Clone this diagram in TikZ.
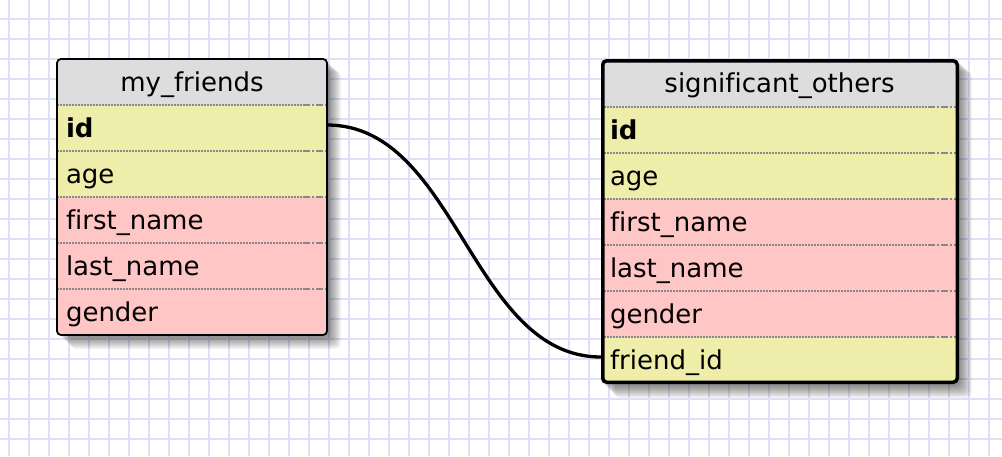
\documentclass[tikz,border=0pt]{standalone}
\usepackage{fontspec}
\setmainfont[Ligatures=NoCommon]{DejaVu Sans}
\definecolor{gridc}{RGB}{223,223,247}
\definecolor{headc}{RGB}{221,221,221}
\definecolor{yelc}{RGB}{238,238,170}
\definecolor{pinkc}{RGB}{255,198,198}
\definecolor{sepc}{RGB}{136,136,136}
\begin{document}
\begin{tikzpicture}[x=1pt,y=-1pt,
  gridline/.style={draw=gridc, line width=2pt},
  cellL/.style={rectangle, anchor=north west, inner xsep=9pt, inner ysep=0pt, outer sep=0pt,
    text width=252pt, minimum height=46pt, align=left, text height=20pt, text depth=2pt,
    font=\fontsize{26}{30}\selectfont},
  cellR/.style={cellL, text width=339pt},
  headL/.style={cellL, align=center},
  headR/.style={cellR, align=center, minimum height=48pt},
  sepdot/.style={draw=sepc, line width=1.5pt, dash pattern=on 1.5pt off 1.5pt},
  sepend/.style={draw=sepc, line width=1.5pt, dash pattern=on 7pt off 2pt on 2pt off 2pt},
  shadowlayer/.style={fill=black, opacity=0.04, rounded corners=5pt},
  link/.style={draw=black, line width=3.3pt}
]
\useasboundingbox (0,0) rectangle (1002,456);
\fill[white] (0,0) rectangle (1002,456);
% grid
\foreach \x in {9,29,...,989} \draw[gridline] (\x,0) -- (\x,456);
\foreach \y in {19,39,...,439} \draw[gridline] (0,\y) -- (1002,\y);

% shadows
\foreach \e in {1,...,14} {
  \fill[shadowlayer] ({57+\e},{59+0.9*\e}) rectangle ({327+\e},{335+\e});
  \fill[shadowlayer] ({601+\e},{59+0.9*\e}) rectangle ({958+\e},{384+\e});
}

% left table
\begin{scope}
\clip[rounded corners=4pt] (57,59) rectangle (327,335);
\node[headL, fill=headc] (lh) at (57,59) {my\_friends};
\node[cellL, fill=yelc] (lid) at (57,105) {\textbf{id}};
\node[cellL, fill=yelc] (lage) at (57,151) {age};
\node[cellL, fill=pinkc] (lfn) at (57,197) {first\_name};
\node[cellL, fill=pinkc] (lln) at (57,243) {last\_name};
\node[cellL, fill=pinkc] (lgd) at (57,289) {gender};
\end{scope}
\foreach \n in {lh,lid,lage,lfn,lln} {
  \draw[sepdot] (\n.south west) -- ([xshift=-24pt]\n.south east);
  \draw[sepend] ([xshift=-24pt]\n.south east) -- (\n.south east);
}
\draw[line width=1.8pt, rounded corners=4pt] (57,59) rectangle (327,335);

% right table
\begin{scope}
\clip[rounded corners=4pt] (601,59) rectangle (958,384);
\node[headR, fill=headc] (rh) at (601,59) {significant\_others};
\node[cellR, fill=yelc] (rid) at (601,107) {\textbf{id}};
\node[cellR, fill=yelc] (rage) at (601,153) {age};
\node[cellR, fill=pinkc] (rfn) at (601,199) {first\_name};
\node[cellR, fill=pinkc] (rln) at (601,245) {last\_name};
\node[cellR, fill=pinkc] (rgd) at (601,291) {gender};
\node[cellR, fill=yelc] (rfid) at (601,337) {friend\_id};
\end{scope}
\foreach \n in {rh,rid,rage,rfn,rln,rgd} {
  \draw[sepdot] (\n.south west) -- ([xshift=-30pt]\n.south east);
  \draw[sepend] ([xshift=-30pt]\n.south east) -- (\n.south east);
}
\draw[line width=3.5pt, rounded corners=4pt] (602.75,60.75) rectangle (957.25,382.25);

% connector
\draw[link] ([yshift=3pt]lid.east) .. controls +(130,0) and +(-130,0) .. ([yshift=3pt]rfid.west);
\end{tikzpicture}
\end{document}
